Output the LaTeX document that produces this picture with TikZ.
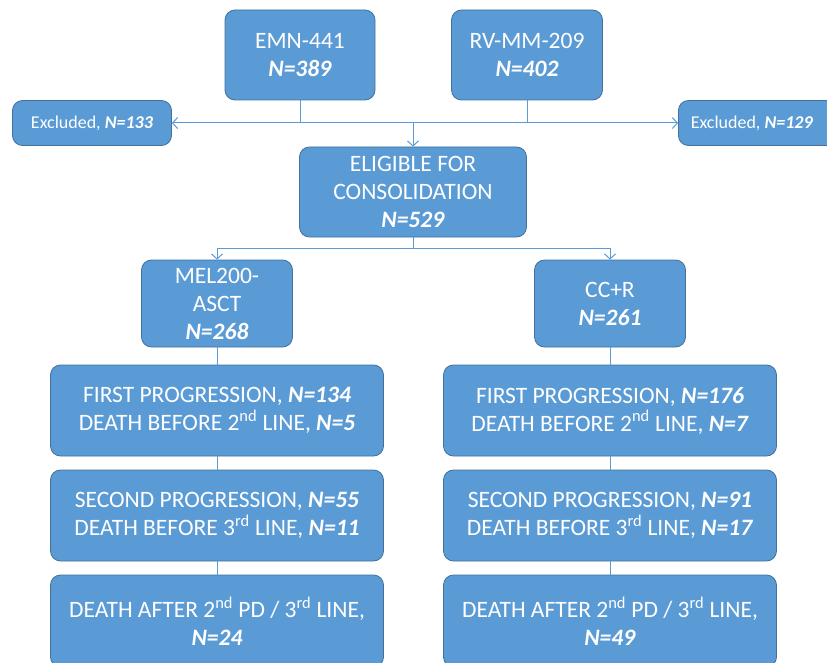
\documentclass[tikz,border=0pt]{standalone}
\usepackage{fontspec}
\setmainfont{Carlito}
\usetikzlibrary{arrows.meta}
\definecolor{boxblue}{HTML}{5B9BD5}
\definecolor{boxedge}{HTML}{41719C}
\newcommand{\nval}[1]{\textbf{\textit{N=#1}}}
\begin{document}
\begin{tikzpicture}[
  x=1pt, y=-1pt,
  box/.style={draw=boxedge, fill=boxblue, rounded corners=10pt, text=white,
    font=\fontsize{23.5}{28}\selectfont, align=center, inner sep=0pt, line width=0.8pt},
  smallbox/.style={box, font=\fontsize{18}{21}\selectfont},
  link/.style={draw=boxblue, line width=1pt},
  arr/.style={link, -{Straight Barb[length=5pt,width=11pt]}}
]
\useasboundingbox (0,0) rectangle (827,663);
% top trials
\node[box, minimum width=150pt, minimum height=90pt] (emn) at (300,55)
  {EMN-441\\ \nval{389}};
\node[box, minimum width=151pt, minimum height=90pt] (rv) at (527,55)
  {RV-MM-209\\ \nval{402}};
% excluded
\node[smallbox, minimum width=159pt, minimum height=45pt] (exL) at (92,123)
  {Excluded, \nval{133}};
\node[smallbox, minimum width=159pt, minimum height=45pt, anchor=west] (exR) at (678,123)
  {\hspace*{-12pt}Excluded, \nval{129}};
% consolidation
\node[box, minimum width=227pt, minimum height=90pt] (elig) at (413,192)
  {ELIGIBLE FOR\\ CONSOLIDATION\\ \nval{529}};
% arms
\node[box, minimum width=151pt, minimum height=87pt] (mel) at (217,303.5)
  {MEL200-\\ ASCT\\ \nval{268}};
\node[box, minimum width=151pt, minimum height=87pt] (ccr) at (610,303.5)
  {CC+R\\ \nval{261}};
% MEL200-ASCT column
\node[box, minimum width=333pt, minimum height=91pt] (mel1) at (217,410.5)
  {FIRST PROGRESSION, \nval{134}\\ DEATH BEFORE 2\textsuperscript{nd} LINE, \nval{5}};
\node[box, minimum width=333pt, minimum height=91pt] (mel2) at (217,515.5)
  {SECOND PROGRESSION, \nval{55}\\ DEATH BEFORE 3\textsuperscript{rd} LINE, \nval{11}};
\node[box, minimum width=333pt, minimum height=92pt] (mel3) at (217,621)
  {DEATH AFTER 2\textsuperscript{nd} PD / 3\textsuperscript{rd} LINE,\\ \nval{24}};
% CC+R column
\node[box, minimum width=333pt, minimum height=91pt] (ccr1) at (610,410.5)
  {FIRST PROGRESSION, \nval{176}\\ DEATH BEFORE 2\textsuperscript{nd} LINE, \nval{7}};
\node[box, minimum width=333pt, minimum height=91pt] (ccr2) at (610,515.5)
  {SECOND PROGRESSION, \nval{91}\\ DEATH BEFORE 3\textsuperscript{rd} LINE, \nval{17}};
\node[box, minimum width=333pt, minimum height=92pt] (ccr3) at (610,621)
  {DEATH AFTER 2\textsuperscript{nd} PD / 3\textsuperscript{rd} LINE,\\ \nval{49}};
% connectors
\coordinate (split) at (413,123);
\coordinate (fork) at (413,248);
\draw[link] (emn.south) -- (emn.south |- split);
\draw[link] (rv.south) -- (rv.south |- split);
\draw[arr] (split) -- (exL.east);
\draw[arr] (split) -- (exR.west);
\draw[arr] (split) -- (elig.north);
\draw[link] (elig.south) -- (fork);
\draw[arr] (fork) -| (mel.north);
\draw[arr] (fork) -| (ccr.north);
\draw[link] (mel) -- (mel1) -- (mel2) -- (mel3);
\draw[link] (ccr) -- (ccr1) -- (ccr2) -- (ccr3);
\end{tikzpicture}
\end{document}
